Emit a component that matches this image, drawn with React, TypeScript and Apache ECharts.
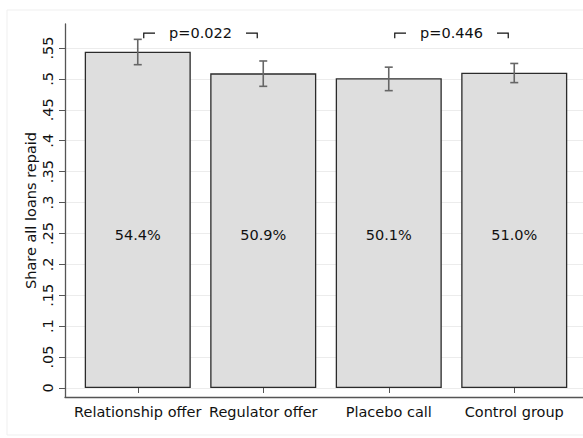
import React, { useEffect, useRef } from "react";
import * as echarts from "echarts";

// Treatment arms and share of borrowers who repaid all loans
const CATEGORIES = ["Relationship offer", "Regulator offer", "Placebo call", "Control group"];
const VALUES = [0.544, 0.509, 0.501, 0.51];
// 95% confidence interval bounds
const CI_LOW = [0.523, 0.488, 0.481, 0.494];
const CI_HIGH = [0.564, 0.529, 0.519, 0.525];
// Pairwise comparisons shown above the bars
const COMPARE_PAIRS = [
  [0, 1],
  [2, 3],
];
const P_LABELS = ["p=0.022", "p=0.446"];
const P_LEVEL = 0.574;
// Height at which the percentage labels sit inside the bars
const LABEL_LEVEL = 0.2475;
const Y_TICKS_MAX = 0.55;
const Y_TICK_STEP = 0.05;

const FONT = "DejaVu Sans";
const FS = 14.5;

function fmtTick(v: number): string {
  if (v === 0) return "0";
  const s = String(Math.round(v * 100) / 100);
  return s.replace(/^0/, "");
}

export default function App() {
  const ref = useRef<HTMLDivElement>(null);

  useEffect(() => {
    document.body.style.margin = "0";
    if (!ref.current) return;
    const chart = echarts.init(ref.current, undefined, { renderer: "svg" });

    const frameGrid = { left: 65, right: 0, top: 24, bottom: 41 };
    const scaleGrid = { left: 65, right: 0, top: 48, bottom: 50 };
    const barGrid = { left: 75, right: 6, top: 48, bottom: 50 };

    const option: any = {
      animation: false,
      backgroundColor: "#ffffff",
      textStyle: { fontFamily: FONT },
      graphic: [
        {
          type: "rect",
          shape: { x: 7, y: 10, width: 640, height: 425 },
          style: { fill: "none", stroke: "#efefef", lineWidth: 1 },
          silent: true,
          z: -1,
        },
      ],
      grid: [
        { ...frameGrid, containLabel: false, outerBoundsMode: "none" },
        { ...scaleGrid, containLabel: false, outerBoundsMode: "none" },
        { ...barGrid, containLabel: false, outerBoundsMode: "none" },
      ],
      xAxis: [
        {
          gridIndex: 0,
          type: "value",
          min: 0,
          max: 1,
          axisLine: { show: true, lineStyle: { color: "#555", width: 1.3 } },
          axisTick: { show: false },
          axisLabel: { show: false },
          splitLine: { show: false },
        },
        {
          gridIndex: 1,
          type: "value",
          min: 0,
          max: 1,
          show: false,
        },
        {
          gridIndex: 2,
          type: "category",
          data: CATEGORIES,
          offset: 9,
          axisLine: { show: false },
          axisTick: { show: true, alignWithLabel: true, length: 5, lineStyle: { color: "#555", width: 1 } },
          axisLabel: { color: "#111", fontSize: FS, fontFamily: FONT, margin: 7, interval: 0 },
          splitLine: { show: false },
        },
      ],
      yAxis: [
        {
          gridIndex: 0,
          type: "value",
          min: 0,
          max: 1,
          axisLine: { show: true, lineStyle: { color: "#555", width: 1.3 } },
          axisTick: { show: false },
          axisLabel: { show: false },
          splitLine: { show: false },
          name: "Share all loans repaid",
          nameLocation: "middle",
          nameGap: 27,
          nameTextStyle: { color: "#111", fontSize: FS, fontFamily: FONT },
        },
        {
          gridIndex: 1,
          type: "value",
          min: 0,
          max: Y_TICKS_MAX,
          interval: Y_TICK_STEP,
          axisLine: { show: false },
          axisTick: { show: true, length: 6, lineStyle: { color: "#555", width: 1 } },
          axisLabel: {
            rotate: 90,
            color: "#111",
            fontSize: FS,
            fontFamily: FONT,
            margin: 10,
            formatter: (v: number) => fmtTick(v),
          },
          splitLine: { show: true, lineStyle: { color: "#ececec", width: 1.2 } },
        },
        {
          gridIndex: 2,
          type: "value",
          min: 0,
          max: Y_TICKS_MAX,
          show: false,
        },
      ],
      series: [
        {
          type: "bar",
          xAxisIndex: 2,
          yAxisIndex: 2,
          data: VALUES,
          barWidth: "84.5%",
          itemStyle: { color: "#dedede", borderColor: "#2b2b2b", borderWidth: 1.3 },
          z: 2,
        },
        {
          // confidence interval whiskers
          type: "custom",
          xAxisIndex: 2,
          yAxisIndex: 2,
          data: CATEGORIES.map((_, i) => [i, CI_LOW[i], CI_HIGH[i]]),
          z: 3,
          renderItem: (params: any, api: any) => {
            const lo = api.coord([api.value(0), api.value(1)]);
            const hi = api.coord([api.value(0), api.value(2)]);
            const hw = 4;
            const style = { stroke: "#666", lineWidth: 1.6 };
            return {
              type: "group",
              children: [
                { type: "line", shape: { x1: lo[0], y1: lo[1], x2: hi[0], y2: hi[1] }, style },
                { type: "line", shape: { x1: hi[0] - hw, y1: hi[1], x2: hi[0] + hw, y2: hi[1] }, style },
                { type: "line", shape: { x1: lo[0] - hw, y1: lo[1], x2: lo[0] + hw, y2: lo[1] }, style },
              ],
            };
          },
        },
        {
          // percentage labels inside the bars
          type: "custom",
          xAxisIndex: 2,
          yAxisIndex: 2,
          data: CATEGORIES.map((_, i) => [i, LABEL_LEVEL]),
          z: 4,
          renderItem: (params: any, api: any) => {
            const p = api.coord([api.value(0), api.value(1)]);
            return {
              type: "text",
              x: p[0],
              y: p[1],
              style: {
                text: (VALUES[params.dataIndex] * 100).toFixed(1) + "%",
                fill: "#111",
                font: `${FS}px "${FONT}"`,
                align: "center",
                verticalAlign: "middle",
              },
            };
          },
        },
        {
          // p-value brackets between compared arms
          type: "custom",
          xAxisIndex: 2,
          yAxisIndex: 2,
          data: COMPARE_PAIRS.map(([a, b]) => [a, b]),
          z: 4,
          renderItem: (params: any, api: any) => {
            const a = api.coord([api.value(0), P_LEVEL]);
            const b = api.coord([api.value(1), P_LEVEL]);
            const x1 = a[0] + 6;
            const x2 = b[0] - 6;
            const y = a[1];
            const mid = (a[0] + b[0]) / 2;
            const gap = 45.5;
            const drop = 5;
            const style = { stroke: "#111", lineWidth: 1.2, fill: "none" };
            return {
              type: "group",
              children: [
                {
                  type: "polyline",
                  shape: { points: [[x1, y + drop], [x1, y], [mid - gap, y]] },
                  style,
                },
                {
                  type: "polyline",
                  shape: { points: [[mid + gap, y], [x2, y], [x2, y + drop]] },
                  style,
                },
                {
                  type: "text",
                  x: mid,
                  y: y,
                  style: {
                    text: P_LABELS[params.dataIndex],
                    fill: "#111",
                    font: `${FS}px "${FONT}"`,
                    align: "center",
                    verticalAlign: "middle",
                  },
                },
              ],
            };
          },
        },
      ],
    };

    chart.setOption(option);
    return () => chart.dispose();
  }, []);

  return <div ref={ref} style={{ width: 583, height: 438 }} />;
}
